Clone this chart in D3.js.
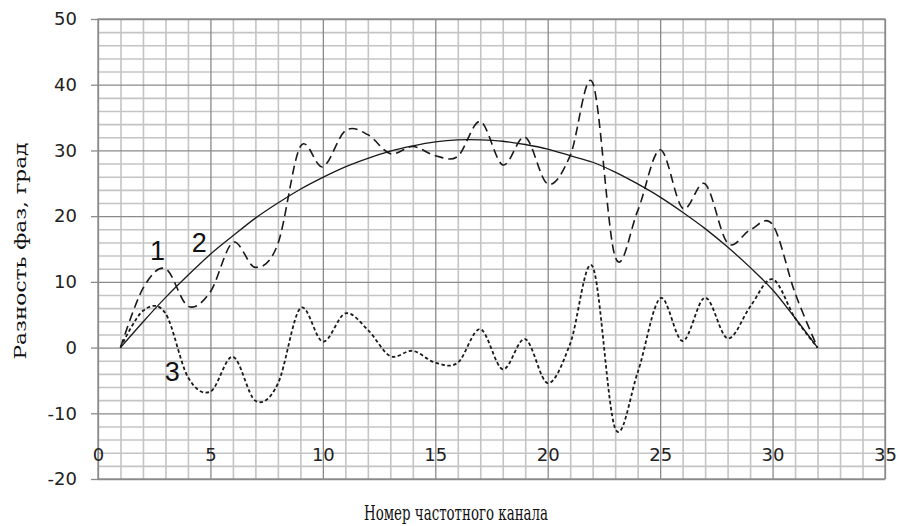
<!DOCTYPE html>
<html>
<head>
<meta charset="utf-8">
<script src="https://cdn.jsdelivr.net/npm/d3@7"></script>
<style>
  html, body { margin: 0; padding: 0; background: #fff; }
  svg { display: block; }
</style>
</head>
<body>
<svg id="chart" width="900" height="526"></svg>
<script>
// ---- data ----
const channels = [1,2,3,4,5,6,7,8,9,10,11,12,13,14,15,16,17,18,19,20,21,22,23,24,25,26,27,28,29,30,31,32];
const series1 = [0,9.0,12.0,6.3,8.5,16.0,12.2,15.8,30.6,27.5,33.0,32.4,29.5,30.6,29.2,29.1,34.4,27.8,32.0,24.9,29.2,40.3,13.8,20.8,30.1,21.2,24.9,15.9,17.9,18.7,8.3,0];
const series2 = [0,3.9,7.6,11.0,14.2,17.0,19.7,22.0,24.1,25.9,27.5,28.8,29.9,30.7,31.3,31.6,31.6,31.4,30.9,30.2,29.2,28.2,26.7,24.9,22.9,20.6,18.1,15.3,12.2,8.8,4.5,0];
const series3 = [0,5.6,5.2,-4.5,-6.7,-1.4,-8.1,-5.5,6.0,0.9,5.2,2.7,-1.3,-0.5,-2.3,-2.3,2.8,-3.3,1.3,-5.4,0.6,12.3,-12.3,-3.8,7.5,1.0,7.6,1.4,6.2,10.4,4.5,0];
const xMajorTicks = [0,5,10,15,20,25,30,35];
const yMajorTicks = [-20,-10,0,10,20,30,40,50];
const labels = [
  {text: "1", x: 2.65, y: 14.7},
  {text: "2", x: 4.5, y: 15.9},
  {text: "3", x: 3.3, y: -3.7}
];
const xTitle = "Номер частотного канала";
const yTitle = "Разность фаз, град";

// ---- layout ----
const svg = d3.select("#chart");
const L = 98, R = 885, T = 19, B = 479;
const x = d3.scaleLinear().domain([0, 35]).range([L, R]);
const y = d3.scaleLinear().domain([-20, 50]).range([B, T]);

const xMinor = d3.range(0, 36, 1).filter(v => v % 5 !== 0);
const yMinor = d3.range(-20, 51, 2).filter(v => v % 10 !== 0);

// minor grid
svg.append("g").attr("transform", `translate(${L},0)`)
  .call(d3.axisLeft(y).tickValues(yMinor).tickSize(-(R - L)).tickFormat(""))
  .call(g => g.select(".domain").remove())
  .call(g => g.selectAll("line").attr("stroke", "#c4c4c4").attr("stroke-width", 1.6));
svg.append("g").attr("transform", `translate(0,${B})`)
  .call(d3.axisBottom(x).tickValues(xMinor).tickSize(-(B - T)).tickFormat(""))
  .call(g => g.select(".domain").remove())
  .call(g => g.selectAll("line").attr("stroke", "#c4c4c4").attr("stroke-width", 1.6));

// major grid
svg.append("g").attr("transform", `translate(${L},0)`)
  .call(d3.axisLeft(y).tickValues(yMajorTicks).tickSize(-(R - L)).tickFormat(""))
  .call(g => g.select(".domain").remove())
  .call(g => g.selectAll("line").attr("stroke", "#8a8a8a").attr("stroke-width", 1.3));
svg.append("g").attr("transform", `translate(0,${B})`)
  .call(d3.axisBottom(x).tickValues(xMajorTicks).tickSize(-(B - T)).tickFormat(""))
  .call(g => g.select(".domain").remove())
  .call(g => g.selectAll("line").attr("stroke", "#8a8a8a").attr("stroke-width", 1.3));

// frame
svg.append("rect").attr("x", L).attr("y", T).attr("width", R - L).attr("height", B - T)
  .attr("fill", "none").attr("stroke", "#8a8a8a").attr("stroke-width", 1.3);

// y axis ticks + labels
svg.append("g").attr("transform", `translate(${L},0)`)
  .call(d3.axisLeft(y).tickValues(yMajorTicks).tickSize(7).tickPadding(14).tickFormat(d3.format("d")))
  .call(g => g.select(".domain").remove())
  .call(g => g.selectAll("line").attr("stroke", "#8a8a8a").attr("stroke-width", 1.3))
  .call(g => g.selectAll("text")
    .attr("font-family", "DejaVu Sans").attr("font-size", 18).attr("fill", "#222")
    .text(d => d < 0 ? "-" + Math.abs(d) : d));

// x axis labels (inside bottom band)
svg.append("g").attr("transform", `translate(0,448)`)
  .call(d3.axisBottom(x).tickValues(xMajorTicks).tickSize(0).tickPadding(0).tickFormat(d3.format("d")))
  .call(g => g.select(".domain").remove())
  .call(g => g.selectAll("text")
    .attr("font-family", "DejaVu Sans").attr("font-size", 18).attr("fill", "#222"));

// series
const line = d3.line().x((d, i) => x(channels[i])).y(d => y(d)).curve(d3.curveCardinal.tension(0));
svg.append("path").datum(series2).attr("d", line)
  .attr("fill", "none").attr("stroke", "#1a1a1a").attr("stroke-width", 1.3);
svg.append("path").datum(series1).attr("d", line)
  .attr("fill", "none").attr("stroke", "#1a1a1a").attr("stroke-width", 1.6)
  .attr("stroke-dasharray", "9,5");
svg.append("path").datum(series3).attr("d", line)
  .attr("fill", "none").attr("stroke", "#1a1a1a").attr("stroke-width", 1.8)
  .attr("stroke-dasharray", "3.5,2.5");

// curve labels
svg.append("g").selectAll("text").data(labels).join("text")
  .attr("x", d => x(d.x)).attr("y", d => y(d.y))
  .attr("text-anchor", "middle").attr("dominant-baseline", "central")
  .attr("font-family", "Liberation Sans").attr("font-size", 27).attr("fill", "#111")
  .text(d => d.text);

// titles
svg.append("text").attr("x", 456).attr("y", 520)
  .attr("text-anchor", "middle")
  .attr("font-family", "DejaVu Serif").attr("font-size", 21).attr("fill", "#111")
  .attr("textLength", 184).attr("lengthAdjust", "spacingAndGlyphs")
  .text(xTitle);
svg.append("text").attr("transform", "translate(26,251) rotate(-90)")
  .attr("text-anchor", "middle")
  .attr("font-family", "DejaVu Serif").attr("font-size", 17).attr("fill", "#111")
  .attr("textLength", 217).attr("lengthAdjust", "spacingAndGlyphs")
  .text(yTitle);
</script>
</body>
</html>
